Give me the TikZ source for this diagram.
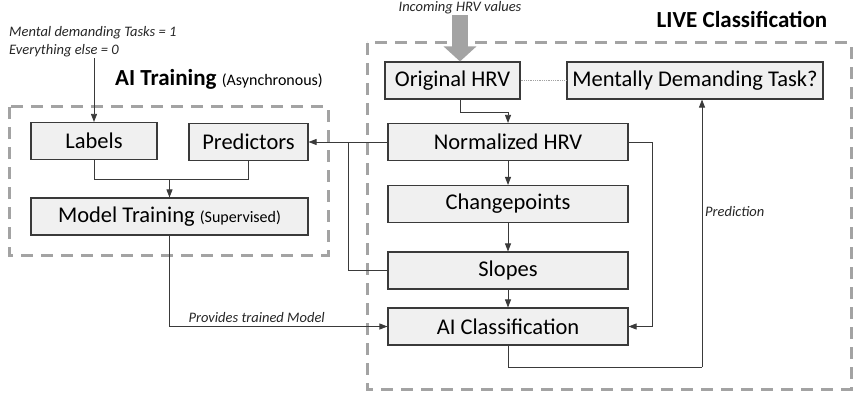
\documentclass[tikz,border=0pt]{standalone}
\usepackage{fontspec}
\setmainfont{Carlito}
\usetikzlibrary{arrows.meta,positioning}
\definecolor{boxfill}{HTML}{F0F0F0}
\definecolor{boxline}{HTML}{3A3A3A}
\definecolor{framegray}{HTML}{A3A3A3}
\tikzset{
  stepbox/.style={rectangle,draw=boxline,fill=boxfill,line width=1.1pt,minimum height=37pt,inner sep=0pt,font=\fontsize{22.5}{26}\selectfont},
  frame/.style={draw=framegray,line width=3pt,dash pattern=on 12pt off 8pt},
  conn/.style={draw=boxline,line width=0.8pt},
  tip/.style={conn,-{Triangle[length=8pt,width=6pt]}},
  note/.style={font=\fontsize{14.5}{18}\selectfont\itshape,text=black!85,inner sep=1pt},
  title/.style={font=\fontsize{23}{27}\selectfont\bfseries,inner sep=0pt}
}
\begin{document}
\begin{tikzpicture}[x=1pt,y=-1pt]
    \useasboundingbox (0,0) rectangle (853,393);
    % frames
    \draw[frame] (9,107) rectangle (328,255);
    \draw[frame] (367,43) rectangle (851,389);
    \node[title,anchor=west] (traintitle) at (115,79) {AI Training \textmd{\fontsize{16}{19}\selectfont(Asynchronous)}};
    \node[title] (livetitle) at (742,20) {LIVE Classification};

    % AI training side
    \node[stepbox,minimum width=126pt] (labels) at (94,141) {Labels};
    \node[stepbox,minimum width=119pt] (predictors) at (248.5,142) {Predictors};
    \node[stepbox,minimum width=277pt] (modeltrain) at (169.5,216.5) {Model Training {\fontsize{16}{19}\selectfont(Supervised)}};
    \node[note,align=left,anchor=west] (labelnote) at (8,42) {Mental demanding Tasks = 1\\Everything else = 0};

    % live classification side
    \node[stepbox,minimum width=135pt] (orighrv) at (452.5,80.5) {Original HRV};
    \node[stepbox,minimum width=256pt] (mentaltask) at (695,80.5) {Mentally Demanding Task?};
    \node[stepbox,minimum width=240pt] (normhrv) at (508,142) {Normalized HRV};
    \node[stepbox,minimum width=240pt] (changepts) at (508,204) {Changepoints};
    \node[stepbox,minimum width=240pt] (slopes) at (508,270.5) {Slopes};
    \node[stepbox,minimum width=240pt] (aiclass) at (508,326.5) {AI Classification};
    \node[note] (incoming) at (460,8) {Incoming HRV values};
    \node[note,anchor=west] (prediction) at (704,212) {Prediction};

    \coordinate (merge) at (169.5,179);
    \coordinate (joinL) at (348,142);
    \coordinate (predbottom) at (702,367);

    \draw[draw=framegray,line width=16pt,-{Triangle[width=32pt,length=15pt]}] (incoming.south) -- ([xshift=7.5pt]orighrv.north);
    \draw[tip] (labelnote.south -| labels.north) -- (labels.north);
    \draw[conn] (labels.south) |- (merge);
    \draw[conn] (predictors.south) |- (merge);
    \draw[tip] (merge) -- (modeltrain.north);
    \draw[tip] (modeltrain.south) |- node[note,pos=0.7,above=2pt] (provides) {Provides trained Model} (aiclass.west);

    \draw[draw=framegray,line width=0.8pt,densely dotted] (orighrv.east) -- (mentaltask.west);
    \draw[tip] ([xshift=7.5pt]orighrv.south) -- ++(0,13) -| (normhrv.north);
    \draw[tip] (normhrv.west) -- (predictors.east);
    \draw[conn] (slopes.west) -| (joinL);
    \draw[tip] (normhrv.south) -- (changepts.north);
    \draw[tip] (changepts.south) -- (slopes.north);
    \draw[tip] (slopes.south) -- (aiclass.north);
    \draw[tip] (normhrv.east) -- ++(24,0) |- (aiclass.east);
    \draw[conn] (aiclass.south) |- (predbottom);
    \draw[tip] (predbottom) -- (predbottom |- mentaltask.south);
\end{tikzpicture}
\end{document}
